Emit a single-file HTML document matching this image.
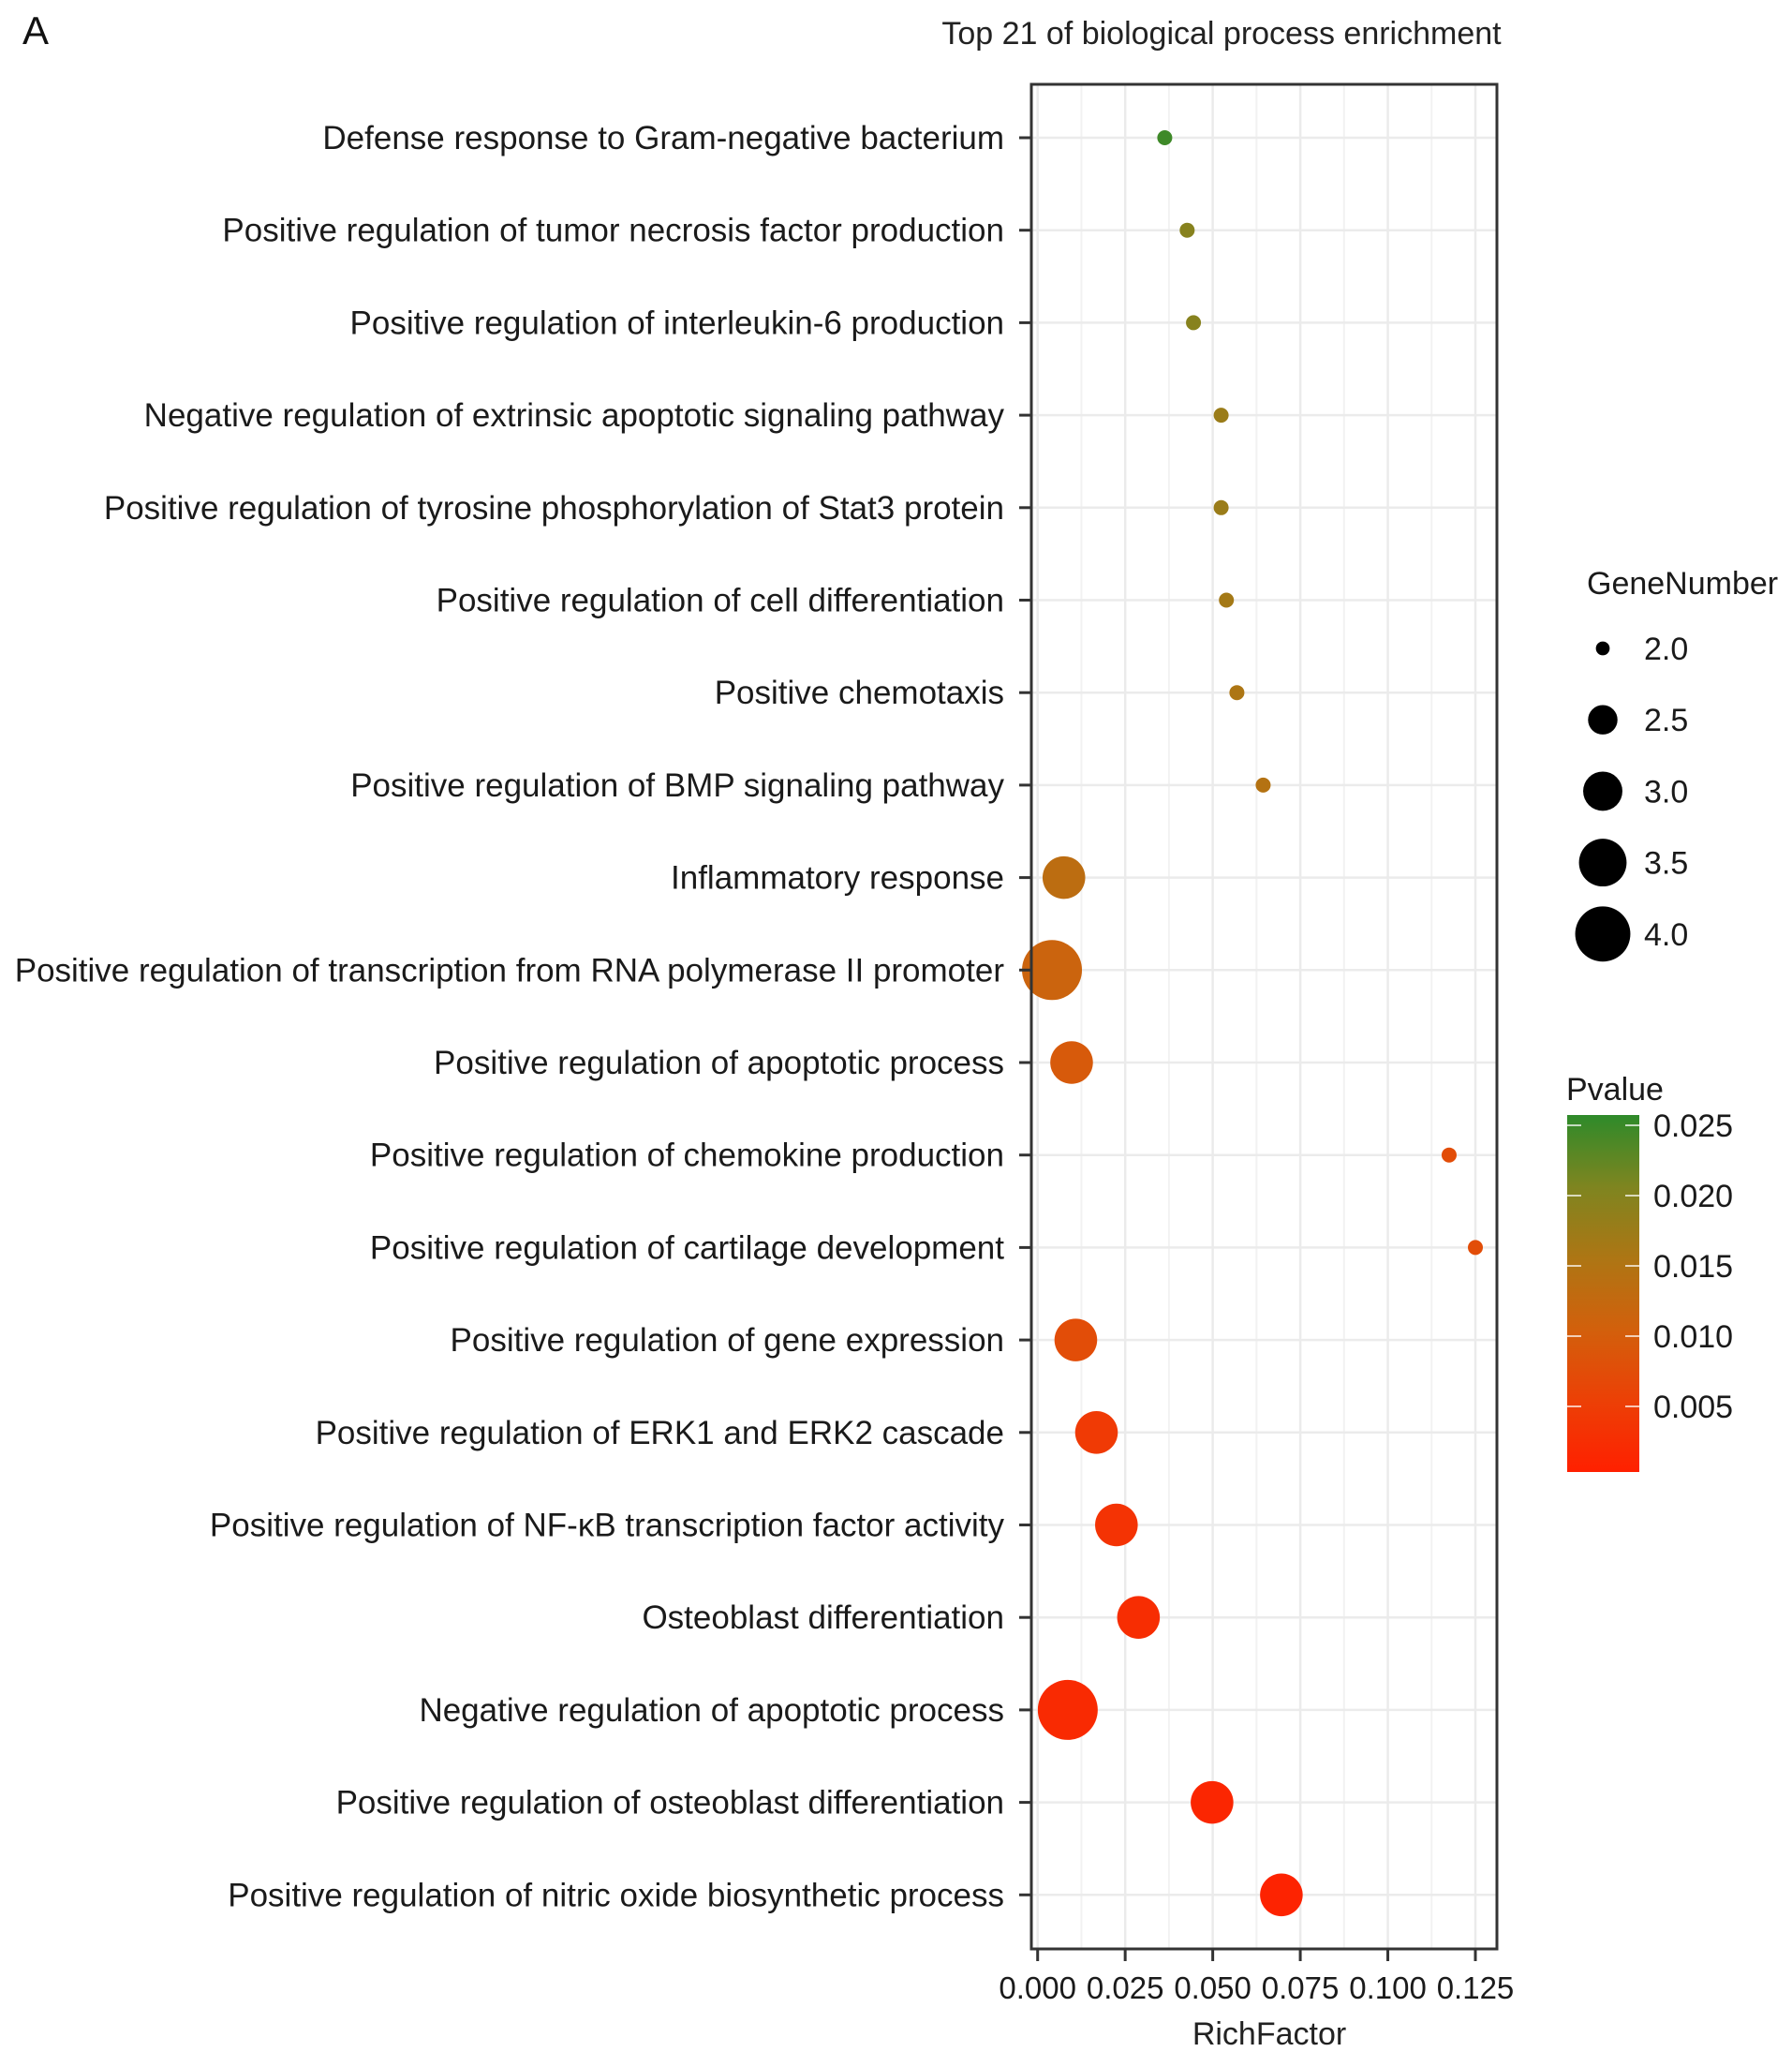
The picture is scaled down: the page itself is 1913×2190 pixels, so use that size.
<!DOCTYPE html>
<html><head><meta charset="utf-8">
<style>
html,body{margin:0;padding:0;background:#fff;}
svg{display:block;font-family:"Liberation Sans",Arial,sans-serif;}
</style></head>
<body>
<svg id="chart" width="1913" height="2190" viewBox="0 0 1913 2190">
<defs>
<linearGradient id="pgrad" x1="0" y1="1" x2="0" y2="0">
<stop offset="0" stop-color="#ff2000"/>
<stop offset="0.2" stop-color="#ec4006"/>
<stop offset="0.4" stop-color="#d2600c"/>
<stop offset="0.6" stop-color="#ad7614"/>
<stop offset="0.8" stop-color="#7e8520"/>
<stop offset="1" stop-color="#2e8a2a"/>
</linearGradient>
</defs>
<text x="24" y="47" font-size="42" fill="#111">A</text>
<text x="1304" y="47" font-size="34" fill="#222" text-anchor="middle">Top 21 of biological process enrichment</text>
<g id="grid"></g>
<g id="points"></g>
<rect x="1101" y="90" width="497" height="1990" fill="none" stroke="#333" stroke-width="3"/>
<g id="yaxis"></g>
<g id="xaxis"></g>
<text x="1355" y="2182" font-size="34" fill="#222" text-anchor="middle">RichFactor</text>
<g id="legend"></g>
</svg>
<script>
const categories = [
"Defense response to Gram-negative bacterium",
"Positive regulation of tumor necrosis factor production",
"Positive regulation of interleukin-6 production",
"Negative regulation of extrinsic apoptotic signaling pathway",
"Positive regulation of tyrosine phosphorylation of Stat3 protein",
"Positive regulation of cell differentiation",
"Positive chemotaxis",
"Positive regulation of BMP signaling pathway",
"Inflammatory response",
"Positive regulation of transcription from RNA polymerase II promoter",
"Positive regulation of apoptotic process",
"Positive regulation of chemokine production",
"Positive regulation of cartilage development",
"Positive regulation of gene expression",
"Positive regulation of ERK1 and ERK2 cascade",
"Positive regulation of NF-\u03baB transcription factor activity",
"Osteoblast differentiation",
"Negative regulation of apoptotic process",
"Positive regulation of osteoblast differentiation",
"Positive regulation of nitric oxide biosynthetic process"];
const richFactor = [0.0363,0.0427,0.0445,0.0524,0.0524,0.0539,0.0569,0.0644,0.0075,0.0041,0.0097,0.1175,0.125,0.0109,0.0168,0.0225,0.0288,0.0086,0.0498,0.0696];
const geneNumber = [2,2,2,2,2,2,2,2,3,4,3,2,2,3,3,3,3,4,3,3];
const pValue = [0.024,0.019,0.019,0.017,0.017,0.016,0.015,0.014,0.013,0.011,0.009,0.007,0.007,0.007,0.004,0.003,0.002,0.0015,0.001,0.0005];
const xTicks = [0,0.025,0.05,0.075,0.1,0.125];
const xTickLabels = ["0.000","0.025","0.050","0.075","0.100","0.125"];
const sizeBreaks = [2.0,2.5,3.0,3.5,4.0];
const sizeLabels = ["2.0","2.5","3.0","3.5","4.0"];
const pTicks = [0.025,0.02,0.015,0.01,0.005];
const pTickLabels = ["0.025","0.020","0.015","0.010","0.005"];

const NS="http://www.w3.org/2000/svg";
function mk(tag,attrs,parent){const e=document.createElementNS(NS,tag);for(const k in attrs)e.setAttribute(k,attrs[k]);parent.appendChild(e);return e;}
const xScale=v=>1107.7+v/0.125*467.3;
const yScale=i=>147+i*98.7;
const rScale=g=>8+24*Math.pow(Math.max(0,(g-2)/2),0.7);
const pScale=p=>1576-p/0.005*75;
const stops=[[0,[255,32,0]],[0.005,[236,64,6]],[0.01,[210,96,12]],[0.015,[173,118,20]],[0.02,[126,133,32]],[0.025,[46,138,42]]];
function color(p){for(let i=0;i<stops.length-1;i++){const a=stops[i],b=stops[i+1];if(p<=b[0]||i==stops.length-2){const t=Math.max(0,Math.min(1,(p-a[0])/(b[0]-a[0])));const c=a[1].map((v,j)=>Math.round(v+(b[1][j]-v)*t));return `rgb(${c})`;}}}

const grid=document.getElementById('grid');
for(let i=0;i<xTicks.length;i++){
  const l=mk('line',{x1:xScale(xTicks[i]),x2:xScale(xTicks[i]),y1:91,y2:2079,stroke:'#ebebeb','stroke-width':2.5},grid);
  
  
  if(i<xTicks.length-1){const m=(xTicks[i]+xTicks[i+1])/2;
  const l2=mk('line',{x1:xScale(m),x2:xScale(m),y1:91,y2:2079,stroke:'#f2f2f2','stroke-width':2},grid);
  
  }
}
categories.forEach((c,i)=>{
  const l=mk('line',{x1:1102,x2:1597,y1:yScale(i),y2:yScale(i),stroke:'#ebebeb','stroke-width':2.5},grid);
  
  
});
const yax=document.getElementById('yaxis');
categories.forEach((c,i)=>{
  const t=mk('text',{x:1072,y:yScale(i)+12,'font-size':35,fill:'#1a1a1a','text-anchor':'end'},yax);
  t.textContent=c;
  
  
  const tk=mk('line',{x1:1088,x2:1101,y1:yScale(i),y2:yScale(i),stroke:'#333','stroke-width':3},yax);
  
  
});
const xax=document.getElementById('xaxis');
xTicks.forEach((v,i)=>{
  const tk=mk('line',{x1:xScale(v),x2:xScale(v),y1:2080,y2:2093,stroke:'#333','stroke-width':3},xax);
  
  
  const t=mk('text',{x:xScale(v),y:2133,'font-size':33,fill:'#1a1a1a','text-anchor':'middle'},xax);
  t.textContent=xTickLabels[i];
  
  
});
const pts=document.getElementById('points');
categories.forEach((c,i)=>{
  const ci=mk('circle',{cx:xScale(richFactor[i]),cy:yScale(i),r:rScale(geneNumber[i]),fill:color(pValue[i])},pts);
  
  
});
const lg=document.getElementById('legend');
let t=mk('text',{x:1694,y:634,'font-size':34,fill:'#1a1a1a'},lg);t.textContent='GeneNumber';


sizeBreaks.forEach((g,i)=>{
  const cy=692+i*76.2;
  const ci=mk('circle',{cx:1711,cy:cy,r:rScale(g)*0.92,fill:'#000'},lg);
  
  
  const tx=mk('text',{x:1755,y:cy+12,'font-size':34,fill:'#1a1a1a'},lg);tx.textContent=sizeLabels[i];
  
  
});
t=mk('text',{x:1672,y:1174,'font-size':34,fill:'#1a1a1a'},lg);t.textContent='Pvalue';


const bar=mk('rect',{x:1673,y:1190,width:77,height:381,fill:'url(#pgrad)'},lg);


pTicks.forEach((p,i)=>{
  const y=pScale(p);
  mk('line',{x1:1673,x2:1688,y1:y,y2:y,stroke:'#fff','stroke-opacity':0.7,'stroke-width':2},lg);
  mk('line',{x1:1735,x2:1750,y1:y,y2:y,stroke:'#fff','stroke-opacity':0.7,'stroke-width':2},lg);
  const tx=mk('text',{x:1765,y:y+12,'font-size':34,fill:'#1a1a1a'},lg);tx.textContent=pTickLabels[i];
  
  
});
</script>
</body></html>
